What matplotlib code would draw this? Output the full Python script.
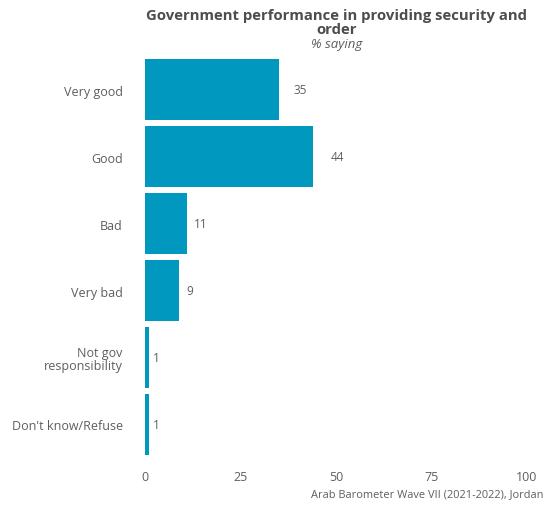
import matplotlib
matplotlib.use('Agg')
import matplotlib.pyplot as plt

plt.rcParams['font.family'] = ['Open Sans', 'DejaVu Sans']

categories = ["Very good", "Good", "Bad", "Very bad", "Not gov\nresponsibility", "Don't know/Refuse"]
values = [35, 44, 11, 9, 1, 1]
xticks = [0, 25, 50, 75, 100]

bar_color = "#0098BE"
text_color = "#5e5e5e"

fig = plt.figure(figsize=(5.45, 5.06), dpi=100)
ax = fig.add_axes([0.266, 0.093, 0.701, 0.794])

ypos = list(range(len(categories)))
ax.barh(ypos, values, height=0.91, color=bar_color)
for y, v in zip(ypos, values):
    ax.text(v * 1.08 + 1, y, str(v), va='center', ha='left', fontsize=8.5, color=text_color)

ax.set_ylim(len(categories) - 0.5, -0.5)
ax.set_xlim(0, 100)
ax.set_yticks(ypos)
ax.set_yticklabels(categories, fontsize=9, color=text_color, linespacing=0.95)
ax.set_xticks(xticks)
ax.set_xticklabels([str(t) for t in xticks], fontsize=9, color=text_color)
ax.tick_params(axis='y', length=0, pad=16)
ax.tick_params(axis='x', length=0, pad=9)
for s in ax.spines.values():
    s.set_visible(False)

fig.text(0.617, 0.954, "Government performance in providing security and\norder",
         ha='center', va='center', fontsize=10.7, fontweight='bold', color="#4d4d4d",
         linespacing=1.0)
fig.text(0.617, 0.912, "% saying", ha='center', va='center', fontsize=9.5,
         style='italic', color=text_color)
fig.text(0.998, 0.022, "Arab Barometer Wave VII (2021-2022), Jordan", ha='right',
         va='center', fontsize=7.9, color=text_color)

fig.savefig("out.png", dpi=100)
